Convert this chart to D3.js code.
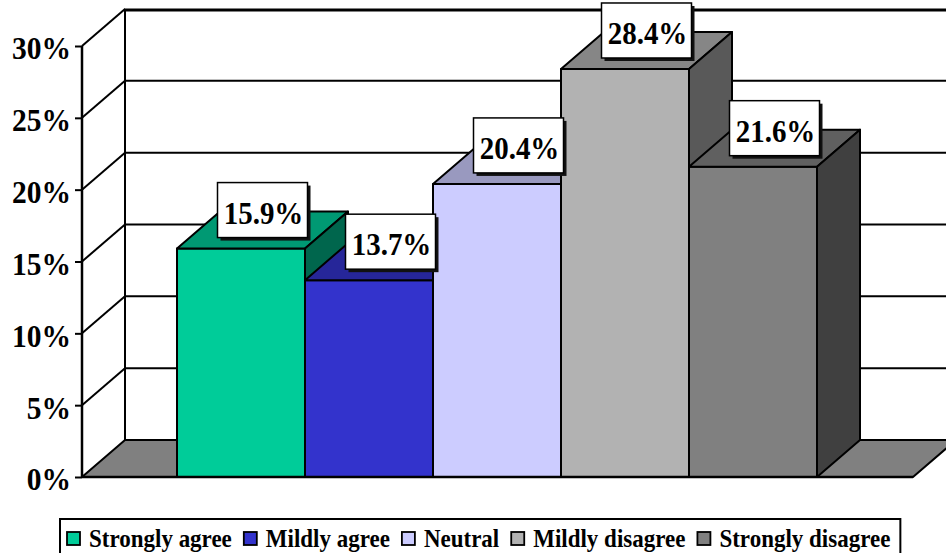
<!DOCTYPE html>
<html>
<head>
<meta charset="utf-8">
<script src="https://cdn.jsdelivr.net/npm/d3@7"></script>
<style>
  body { margin: 0; background: #fff; }
  svg { display: block; }
  text { font-family: "Liberation Serif", "Times New Roman", serif; font-weight: bold; fill: #000; }
</style>
</head>
<body>
<svg width="946" height="553"></svg>
<script>
var categories = ['Strongly agree', 'Mildly agree', 'Neutral', 'Mildly disagree', 'Strongly disagree'];
var values = [15.9, 13.7, 20.4, 28.4, 21.6];
var labels = ['15.9%', '13.7%', '20.4%', '28.4%', '21.6%'];
var yTicks = [0, 5, 10, 15, 20, 25, 30];
var colors = ['#00CC99', '#3333CC', '#CCCCFF', '#B2B2B2', '#808080'];

var svg = d3.select('svg');

// depth of the 3d box
var dx = 43, dy = 37;
var floorLeft = 82, floorRight = 913;

var y = d3.scaleLinear().domain([0, 30]).range([477, 46]);
var x = d3.scaleBand().domain(categories).range([177, 817]).padding(0);

function shade(c, k){
    var r = d3.rgb(c);
    return d3.rgb(r.r * k, r.g * k, r.b * k).formatHex();
}

// back wall grid lines + left wall diagonals
var grid = svg.append('g');
yTicks.forEach(function(t){
    if (t > 0 && t < 30) {
        grid.append('line')
            .attr('x1', floorLeft + dx).attr('x2', floorRight + dx)
            .attr('y1', y(t) - dy).attr('y2', y(t) - dy)
            .style('stroke', '#000').style('stroke-width', 2);
    }
    if (t > 0) {
        grid.append('line')
            .attr('x1', floorLeft).attr('x2', floorLeft + dx)
            .attr('y1', y(t)).attr('y2', y(t) - dy)
            .style('stroke', '#000').style('stroke-width', 2);
    }
});
// back wall left edge
grid.append('line')
    .attr('x1', floorLeft + dx).attr('x2', floorLeft + dx)
    .attr('y1', y(30) - dy).attr('y2', y(0) - dy)
    .style('stroke', '#000').style('stroke-width', 2);
// back wall top edge
grid.append('line')
    .attr('x1', floorLeft + dx - 1).attr('x2', floorRight + dx)
    .attr('y1', y(30) - dy + 1).attr('y2', y(30) - dy + 1)
    .style('stroke', '#000').style('stroke-width', 3);

// floor
svg.append('polygon')
    .attr('points', [[floorLeft, y(0)], [floorRight, y(0)], [floorRight + dx, y(0) - dy], [floorLeft + dx, y(0) - dy]].join(' '))
    .attr('fill', '#808080')
    .style('stroke', '#000').style('stroke-width', 2)
    .style('stroke-linejoin', 'round');

// bars, left to right so each covers the hidden part of the previous side
var bars = svg.append('g');
categories.forEach(function(c, i){
    var x0 = x(c), x1 = x(c) + x.bandwidth();
    var yt = y(values[i]), yb = y(0);
    var g = bars.append('g');
    g.append('polygon')
        .attr('points', [[x0, yt], [x1, yt], [x1, yb], [x0, yb]].join(' '))
        .attr('fill', colors[i]);
    g.append('polygon')
        .attr('points', [[x0, yt], [x0 + dx, yt - dy], [x1 + dx, yt - dy], [x1, yt]].join(' '))
        .attr('fill', shade(colors[i], 0.75));
    g.append('polygon')
        .attr('points', [[x1, yt], [x1 + dx, yt - dy], [x1 + dx, yb - dy], [x1, yb]].join(' '))
        .attr('fill', shade(colors[i], 0.5));
    g.selectAll('polygon')
        .style('stroke', '#000').style('stroke-width', 2)
        .style('stroke-linejoin', 'round');
});

// front bottom line
svg.append('line')
    .attr('x1', floorLeft).attr('x2', floorRight)
    .attr('y1', y(0)).attr('y2', y(0))
    .style('stroke', '#000').style('stroke-width', 2.5);

// y axis
var axis = svg.append('g')
    .attr('transform', 'translate(' + floorLeft + ',0)')
    .call(d3.axisLeft(y).tickValues(yTicks).tickSize(7).tickPadding(4)
        .tickFormat(function(d){ return d + '%'; }));
axis.select('.domain').attr('d', 'M0,' + y(30) + 'V' + y(0))
    .style('stroke', '#000').style('stroke-width', 2.5);
axis.selectAll('.tick line').style('stroke', '#000').style('stroke-width', 2);
axis.selectAll('.tick text')
    .attr('dy', '0.4em')
    .attr('transform', 'scale(1,1.1)')
    .style('font-size', '29.5px')
    .style('font-family', '"Liberation Serif", serif')
    .style('font-weight', 'bold')
    .style('fill', '#000');

// data labels
var lab = svg.append('g');
categories.forEach(function(c, i){
    var cx = x(c) + x.bandwidth() / 2 + dx / 2;
    var cy = y(values[i]) - dy / 2 - 20;
    var w = 90, h = 55;
    lab.append('rect')
        .attr('x', cx - w / 2 + 3).attr('y', cy - h / 2 + 3)
        .attr('width', w).attr('height', h)
        .attr('fill', '#111');
    lab.append('rect')
        .attr('x', cx - w / 2).attr('y', cy - h / 2)
        .attr('width', w).attr('height', h)
        .attr('fill', '#fff')
        .style('stroke', '#000').style('stroke-width', 1.5);
    lab.append('g')
        .attr('transform', 'translate(' + (cx + 1) + ',' + (cy + 13.5) + ') scale(1,1.12)')
        .append('text')
        .attr('text-anchor', 'middle')
        .style('font-size', '29px')
        .text(labels[i]);
});

// legend
var leg = svg.append('g');
var legBox = leg.append('rect')
    .attr('x', 60).attr('y', 519)
    .attr('height', 60)
    .attr('fill', '#fff')
    .style('stroke', '#000').style('stroke-width', 2);
var lx = 67;
categories.forEach(function(c, i){
    leg.append('rect')
        .attr('x', lx).attr('y', 532)
        .attr('width', 13).attr('height', 13)
        .attr('fill', colors[i])
        .style('stroke', '#000').style('stroke-width', 1.8);
    var t = leg.append('g')
        .attr('transform', 'translate(' + (lx + 22) + ',547) scale(1,1.12)')
        .append('text')
        .style('font-size', '23px')
        .text(c);
    lx = lx + 22 + t.node().getComputedTextLength() + 12;
});
legBox.attr('width', lx - 60 - 2);
</script>
</body>
</html>
